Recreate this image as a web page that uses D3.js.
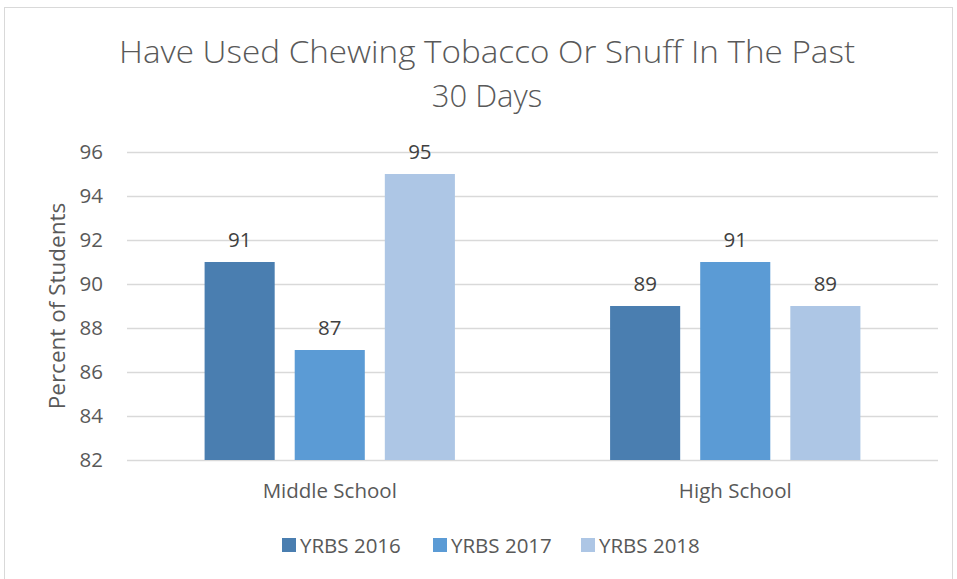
<!DOCTYPE html>
<html>
<head>
<meta charset="utf-8">
<script src="https://cdn.jsdelivr.net/npm/d3@7"></script>
<style>
  html, body { margin: 0; padding: 0; background: #fff; }
  svg { display: block; }
  text { font-family: "Open Sans", "Noto Sans", sans-serif; }
</style>
</head>
<body>
<svg id="chart" width="957" height="579"></svg>
<script>
const categories = ["Middle School", "High School"];
const seriesNames = ["YRBS 2016", "YRBS 2017", "YRBS 2018"];
const yrbs2016 = [91, 89];
const yrbs2017 = [87, 91];
const yrbs2018 = [95, 89];
const yTicks = [82, 84, 86, 88, 90, 92, 94, 96];
const titleLines = ["Have Used Chewing Tobacco Or Snuff In The Past", "30 Days"];
const yAxisTitle = "Percent of Students";
const colors = ["#4a7eb0", "#5b9bd5", "#adc6e5"];

const seriesValues = [yrbs2016, yrbs2017, yrbs2018];
const data = categories.map((c, i) => ({
  category: c,
  values: seriesNames.map((s, j) => ({ series: s, value: seriesValues[j][i], idx: j }))
}));

const svg = d3.select("#chart");

// chart border
svg.append("rect")
  .attr("x", 4.5).attr("y", 7.5)
  .attr("width", 948).attr("height", 600)
  .attr("fill", "none").attr("stroke", "#d9d9d9").attr("stroke-width", 1);

const plot = { left: 127, right: 938, top: 152, bottom: 460 };

const y = d3.scaleLinear().domain([82, 96]).range([plot.bottom, plot.top]);
const x0 = d3.scaleBand().domain(categories).range([plot.left, plot.right])
  .paddingInner(1/3).paddingOuter(1/6);
const x1 = d3.scaleBand().domain(seriesNames).range([0, x0.bandwidth()])
  .paddingInner(2/9).paddingOuter(1/9);

// title
const title = svg.append("g");
title.selectAll("text").data(titleLines).enter().append("text")
  .attr("x", 487).attr("y", (d, i) => 63 + i * 44)
  .attr("text-anchor", "middle")
  .attr("fill", "#595959")
  .attr("font-size", 31)
  .attr("font-weight", 300)
  .attr("textLength", (d, i) => i === 0 ? 736 : null)
  .attr("lengthAdjust", "spacingAndGlyphs")
  .text(d => d);

// gridlines + y axis
const yAxis = d3.axisLeft(y).tickValues(yTicks).tickSize(-(plot.right - plot.left)).tickPadding(24);
const gy = svg.append("g").attr("transform", `translate(${plot.left},0)`).call(yAxis);
gy.select(".domain").remove();
gy.selectAll(".tick line").attr("stroke", "#d9d9d9").attr("stroke-width", 1.5);
gy.selectAll(".tick text").attr("fill", "#595959").attr("font-size", 20.5)
  .attr("font-family", "\"Open Sans\", sans-serif");

// y axis title
svg.append("text")
  .attr("transform", `translate(65,${(plot.top + plot.bottom) / 2}) rotate(-90)`)
  .attr("text-anchor", "middle")
  .attr("fill", "#595959").attr("font-size", 22.5)
  .text(yAxisTitle);

// bars
const groups = svg.append("g").selectAll("g").data(data).enter().append("g")
  .attr("transform", d => `translate(${x0(d.category)},0)`);

groups.selectAll("rect").data(d => d.values).enter().append("rect")
  .attr("x", d => x1(d.series))
  .attr("width", x1.bandwidth())
  .attr("y", d => y(d.value))
  .attr("height", d => y(82) - y(d.value))
  .attr("fill", d => colors[d.idx]);

groups.selectAll("text.lbl").data(d => d.values).enter().append("text")
  .attr("class", "lbl")
  .attr("x", d => x1(d.series) + x1.bandwidth() / 2)
  .attr("y", d => y(d.value) - 15)
  .attr("text-anchor", "middle")
  .attr("fill", "#404040").attr("font-size", 20.5)
  .text(d => d.value);

// x axis labels
const xAxis = d3.axisBottom(x0).tickSize(0).tickPadding(23);
const gx = svg.append("g").attr("transform", `translate(0,${plot.bottom})`).call(xAxis);
gx.select(".domain").remove();
gx.selectAll(".tick text").attr("fill", "#595959").attr("font-size", 20.5)
  .attr("font-family", "\"Open Sans\", sans-serif");

// legend
const legendX = [282, 433, 581];
const legend = svg.append("g").selectAll("g").data(seriesNames).enter().append("g")
  .attr("transform", (d, i) => `translate(${legendX[i]},538)`);
legend.append("rect").attr("width", 14).attr("height", 14).attr("fill", (d, i) => colors[i]);
legend.append("text").attr("x", 18).attr("y", 14.5)
  .attr("fill", "#595959").attr("font-size", 20.5)
  .text(d => d);
</script>
</body>
</html>
